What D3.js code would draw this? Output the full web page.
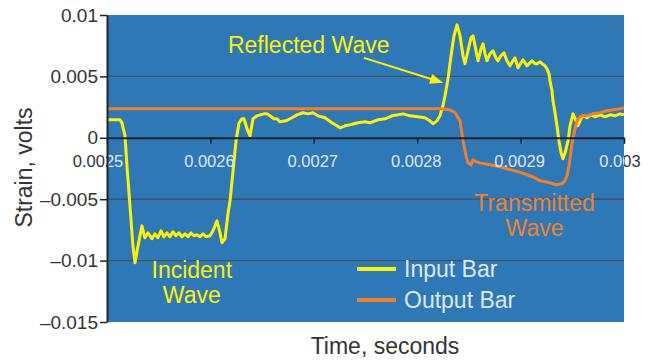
<!DOCTYPE html>
<html>
<head>
<meta charset="utf-8">
<script src="https://cdn.jsdelivr.net/npm/d3@7"></script>
<style>
  body { margin: 0; background: #fff; }
  svg { display: block; font-family: "Liberation Sans", Arial, sans-serif; }
</style>
</head>
<body>
<svg id="chart"></svg>
<script>
// time in microseconds, strain in volts
const inputTime = [2500.0, 2507.7, 2512.6, 2514.5, 2517.4, 2519.3, 2522.2, 2525.1, 2527.1, 2530.0,
  2533.8, 2536.7, 2539.7, 2543.5, 2546.4, 2549.3, 2552.2, 2555.1, 2558.0, 2560.9,
  2563.8, 2566.7, 2569.6, 2572.5, 2575.4, 2578.3, 2581.2, 2584.1, 2587.0, 2589.9,
  2592.8, 2595.7, 2599.6, 2602.5, 2606.4, 2609.3, 2611.2, 2614.1, 2617.0, 2619.0,
  2621.9, 2624.8, 2627.7, 2630.6, 2632.5, 2635.4, 2638.3, 2641.2, 2645.1, 2648.0,
  2651.8, 2654.7, 2657.6, 2661.5, 2664.4, 2667.3, 2673.1, 2678.9, 2683.7, 2689.6,
  2694.4, 2699.2, 2704.1, 2710.8, 2717.6, 2722.4, 2725.3, 2730.2, 2735.0, 2742.7,
  2749.5, 2754.3, 2762.1, 2768.9, 2775.6, 2781.4, 2786.3, 2793.0, 2800.8, 2807.5,
  2812.4, 2815.3, 2819.1, 2822.0, 2824.9, 2826.9, 2829.8, 2832.7, 2835.6, 2838.5,
  2841.4, 2844.3, 2846.2, 2849.1, 2852.0, 2854.0, 2856.9, 2858.8, 2861.7, 2863.6,
  2865.6, 2867.5, 2870.4, 2873.3, 2876.2, 2878.1, 2881.0, 2883.9, 2886.8, 2889.7,
  2892.6, 2894.6, 2897.5, 2900.4, 2902.3, 2906.2, 2909.1, 2911.0, 2913.9, 2915.9,
  2918.8, 2920.7, 2923.6, 2925.5, 2927.5, 2928.4, 2930.4, 2931.3, 2933.3, 2935.2,
  2937.1, 2939.1, 2941.0, 2943.0, 2945.9, 2947.8, 2950.7, 2953.6, 2955.5, 2958.4,
  2960.4, 2964.2, 2968.1, 2972.0, 2976.8, 2981.6, 2986.5, 2991.3, 2996.1, 3000.0];
const inputStrain = [0.00147, 0.00147, 0.00147, 0.00122, 0.00016, -0.00228, -0.00554, -0.00879, -0.01018, -0.00879,
  -0.00717, -0.00814, -0.00774, -0.00822, -0.00782, -0.00814, -0.00757, -0.00806, -0.00774, -0.00806,
  -0.00765, -0.00798, -0.00774, -0.00806, -0.00782, -0.00806, -0.00774, -0.00798, -0.00790, -0.00806,
  -0.00782, -0.00806, -0.00798, -0.00757, -0.00676, -0.00774, -0.00855, -0.00822, -0.00619, -0.00513,
  -0.00269, -0.00024, 0.00122, 0.00155, 0.00155, 0.00073, 0.00016, 0.00155, 0.00179, 0.00187,
  0.00195, 0.00195, 0.00179, 0.00155, 0.00155, 0.00130, 0.00138, 0.00163, 0.00187, 0.00204,
  0.00195, 0.00204, 0.00179, 0.00163, 0.00122, 0.00098, 0.00081, 0.00098, 0.00106, 0.00122,
  0.00130, 0.00122, 0.00147, 0.00155, 0.00179, 0.00187, 0.00195, 0.00179, 0.00171, 0.00163,
  0.00138, 0.00114, 0.00138, 0.00179, 0.00261, 0.00342, 0.00480, 0.00668, 0.00831, 0.00920,
  0.00831, 0.00668, 0.00603, 0.00708, 0.00814, 0.00831, 0.00708, 0.00627, 0.00725, 0.00765,
  0.00684, 0.00627, 0.00684, 0.00708, 0.00651, 0.00627, 0.00668, 0.00692, 0.00627, 0.00586,
  0.00627, 0.00651, 0.00570, 0.00611, 0.00635, 0.00586, 0.00611, 0.00627, 0.00603, 0.00603,
  0.00619, 0.00603, 0.00586, 0.00562, 0.00521, 0.00464, 0.00383, 0.00301, 0.00204, 0.00098,
  -0.00024, -0.00122, -0.00171, -0.00122, -0.00024, 0.00098, 0.00195, 0.00138, 0.00098, 0.00155,
  0.00179, 0.00163, 0.00187, 0.00171, 0.00187, 0.00171, 0.00187, 0.00179, 0.00195, 0.00187];

const outputTime = [2500.0, 2600.0, 2700.0, 2822.0, 2831.7, 2836.6, 2841.4, 2844.3, 2847.2, 2849.1,
  2852.0, 2854.0, 2856.9, 2860.7, 2870.4, 2880.1, 2886.8, 2894.6, 2901.3, 2909.1,
  2913.9, 2918.8, 2923.6, 2928.4, 2934.2, 2940.0, 2942.9, 2944.9, 2946.8, 2949.7,
  2952.6, 2954.5, 2957.4, 2959.4, 2964.2, 2970.0, 2976.8, 2983.6, 2990.3, 2996.1, 3000.0];
const outputStrain = [0.00236, 0.00236, 0.00236, 0.00236, 0.00228, 0.00204, 0.00138, -0.00024, -0.00147, -0.00204,
  -0.00220, -0.00179, -0.00195, -0.00204, -0.00220, -0.00236, -0.00252, -0.00269, -0.00285, -0.00309,
  -0.00326, -0.00350, -0.00358, -0.00366, -0.00383, -0.00375, -0.00350, -0.00309, -0.00228, -0.00049,
  0.00073, 0.00138, 0.00171, 0.00179, 0.00179, 0.00195, 0.00204, 0.00220, 0.00228, 0.00236, 0.00244];

const xTicks = [2500, 2600, 2700, 2800, 2900, 3000];
const xTickLabels = ['0.0025', '0.0026', '0.0027', '0.0028', '0.0029', '0.003'];
const yTicks = [0.01, 0.005, 0, -0.005, -0.01, -0.015];
const yTickLabels = ['0.01', '0.005', '0', '\u20130.005', '\u20130.01', '\u20130.015'];
const gridValues = [0.005, -0.005, -0.01];

const seriesNames = ['Input Bar', 'Output Bar'];
const seriesColors = ['#fff200', '#f0812a'];

const w = 655, h = 360;
const marginL = 107, marginT = 15, marginR = 31, marginB = 38;
const blue = '#2e78b8';
const lightText = '#dfe7f1';
const darkText = '#333';

const svg = d3.select('#chart').attr('width', w).attr('height', h);

const x = d3.scaleLinear().domain([2500, 3000]).range([marginL, w - marginR]);
const y = d3.scaleLinear().domain([-0.015, 0.01]).range([h - marginB, marginT]);

const defs = svg.append('defs');
defs.append('clipPath').attr('id', 'inside')
  .append('rect')
  .attr('x', marginL).attr('y', marginT)
  .attr('width', w - marginL - marginR).attr('height', h - marginT - marginB);
let outside = defs.append('clipPath').attr('id', 'outside');
outside.append('rect').attr('x', 0).attr('y', 0).attr('width', marginL).attr('height', h);
outside.append('rect').attr('x', w - marginR).attr('y', 0).attr('width', marginR).attr('height', h);

// plot background
svg.append('rect')
  .attr('x', marginL).attr('y', marginT)
  .attr('width', w - marginL - marginR).attr('height', h - marginT - marginB)
  .attr('fill', blue);

// gridlines
svg.append('g').selectAll('line')
  .data(gridValues)
  .enter()
  .append('line')
  .attr('x1', marginL).attr('x2', w - marginR)
  .attr('y1', d => y(d)).attr('y2', d => y(d))
  .attr('stroke', '#46525e')
  .attr('stroke-width', 1.4);

// lines
let inputData = inputTime.map((t, i) => ({ t: t, v: inputStrain[i] }));
let outputData = outputTime.map((t, i) => ({ t: t, v: outputStrain[i] }));
let line = d3.line().x(d => x(d.t)).y(d => y(d.v));

let plot = svg.append('g').attr('clip-path', 'url(#inside)');
[inputData, outputData].forEach((data, i) => {
  plot.append('path')
    .datum(data)
    .attr('fill', 'none')
    .attr('stroke', seriesColors[i])
    .attr('stroke-width', 3)
    .attr('stroke-linejoin', 'round')
    .attr('d', line);
});

// x axis along zero
let xAxis = d3.axisBottom(x)
  .tickValues(xTicks)
  .tickSize(6)
  .tickSizeOuter(0);
let gx = svg.append('g')
  .attr('transform', `translate(0,${y(0)})`)
  .call(xAxis);
gx.select('.domain').attr('stroke', '#222').attr('stroke-width', 2);
gx.selectAll('.tick line').attr('stroke', '#222').attr('stroke-width', 1.5);
gx.selectAll('.tick text').remove();

// x tick labels: light on the blue, dark on the white
[['inside', lightText], ['outside', darkText]].forEach(([clip, fill]) => {
  svg.append('g')
    .attr('clip-path', `url(#${clip})`)
    .selectAll('text')
    .data(xTicks)
    .enter()
    .append('text')
    .attr('x', (d, i) => x(d) + (i === 0 ? -9 : i === xTicks.length - 1 ? -4 : -1))
    .attr('y', y(0) + 29)
    .attr('text-anchor', 'middle')
    .attr('font-size', 16.5)
    .attr('fill', fill)
    .text((d, i) => xTickLabels[i]);
});

// y axis
let yAxis = d3.axisLeft(y)
  .tickValues(yTicks)
  .tickFormat((d, i) => yTickLabels[i])
  .tickSize(7)
  .tickSizeOuter(0)
  .tickPadding(2);
let gy = svg.append('g')
  .attr('transform', `translate(${marginL},0)`)
  .call(yAxis);
gy.select('.domain').attr('stroke', '#222').attr('stroke-width', 2);
gy.selectAll('.tick line').attr('stroke', '#222').attr('stroke-width', 1.5);
gy.selectAll('.tick text')
  .attr('font-size', 19)
  .attr('fill', darkText)
  .attr('font-family', '"Liberation Sans", Arial, sans-serif');

// axis titles
svg.append('text')
  .attr('x', 385).attr('y', 354)
  .attr('text-anchor', 'middle')
  .attr('font-size', 23)
  .attr('fill', darkText)
  .text('Time, seconds');
svg.append('text')
  .attr('transform', `translate(32,${(marginT + h - marginB) / 2 - 1}) rotate(-90)`)
  .attr('text-anchor', 'middle')
  .attr('font-size', 23)
  .attr('fill', darkText)
  .text('Strain, volts');

// annotations
svg.append('text')
  .attr('x', x(2617)).attr('y', y(0.00692))
  .attr('font-size', 23)
  .attr('fill', seriesColors[0])
  .text('Reflected Wave');

let ax1 = x(2748.5), ay1 = y(0.00651), ax2 = x(2825), ay2 = y(0.00448);
let ang = Math.atan2(ay2 - ay1, ax2 - ax1);
svg.append('line')
  .attr('x1', ax1).attr('y1', ay1)
  .attr('x2', ax2 - 10 * Math.cos(ang)).attr('y2', ay2 - 10 * Math.sin(ang))
  .attr('stroke', seriesColors[0]).attr('stroke-width', 2);
svg.append('path')
  .attr('d', `M0,0 L-13,-5 L-13,5 Z`)
  .attr('transform', `translate(${ax2},${ay2}) rotate(${ang * 180 / Math.PI})`)
  .attr('fill', seriesColors[0]);

let incident = svg.append('text')
  .attr('text-anchor', 'middle')
  .attr('font-size', 23)
  .attr('fill', seriesColors[0]);
incident.append('tspan').attr('x', x(2582)).attr('y', y(-0.0114)).text('Incident');
incident.append('tspan').attr('x', x(2582)).attr('y', y(-0.01343)).text('Wave');

let transmitted = svg.append('text')
  .attr('text-anchor', 'middle')
  .attr('font-size', 23)
  .attr('fill', seriesColors[1]);
transmitted.append('tspan').attr('x', x(2913.5)).attr('y', y(-0.00594)).text('Transmitted');
transmitted.append('tspan').attr('x', x(2913.5)).attr('y', y(-0.00798)).text('Wave');

// legend
let legend = svg.append('g').attr('transform', 'translate(357,269)');
seriesNames.forEach((name, i) => {
  let row = legend.append('g').attr('transform', `translate(0,${i * 31})`);
  row.append('line')
    .attr('x1', 0).attr('x2', 39)
    .attr('stroke', seriesColors[i]).attr('stroke-width', 4);
  row.append('text')
    .attr('x', 47).attr('y', 8)
    .attr('font-size', 23)
    .attr('fill', lightText)
    .text(name);
});
</script>
</body>
</html>
